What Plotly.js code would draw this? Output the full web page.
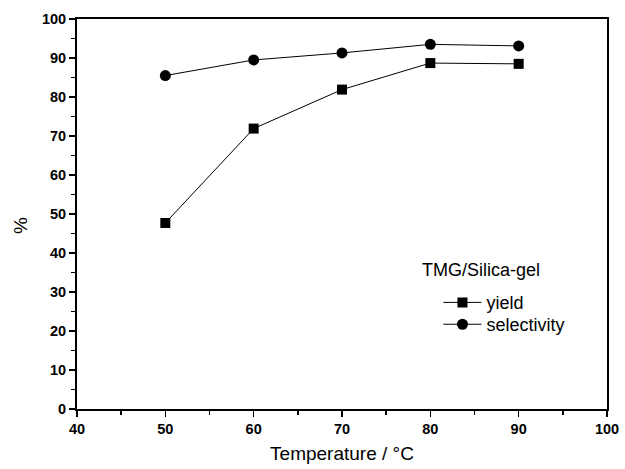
<!DOCTYPE html>
<html>
<head>
<meta charset="utf-8">
<script src="https://cdn.plot.ly/plotly-3.0.1.min.js"></script>
<style>html,body{margin:0;padding:0;background:#fff;}#chart{width:625px;height:469px;}</style>
</head>
<body>
<div id="chart"></div>
<script>
var temperature = [50, 60, 70, 80, 90];
var yieldValues = [47.7, 71.9, 81.9, 88.7, 88.5];
var selectivityValues = [85.5, 89.5, 91.3, 93.5, 93.1];
var seriesNames = ['yield', 'selectivity'];
var legendTitle = 'TMG/Silica-gel';
var xTitle = 'Temperature / \u00B0C';
var yTitle = '%';
var xTickVals = [40, 50, 60, 70, 80, 90, 100];
var yTickVals = [0, 10, 20, 30, 40, 50, 60, 70, 80, 90, 100];

var traces = [
  {x: temperature, y: yieldValues, name: seriesNames[0], type: 'scatter', mode: 'lines+markers', legend: 'legend',
   line: {color: '#000', width: 1}, marker: {symbol: 'square', size: 10, color: '#000'}},
  {x: temperature, y: selectivityValues, name: seriesNames[1], type: 'scatter', mode: 'lines+markers', legend: 'legend2',
   line: {color: '#000', width: 1}, marker: {symbol: 'circle', size: 11, color: '#000'}}
];
var fam = 'Liberation Sans';
var axisFont = {family: fam, size: 14.5, color: '#000', weight: 'bold'};
function boldLabels(v) { return v.map(function (t) { return '<b>' + t + '</b>'; }); }
function legendBox(yPos) {
  return {x: 0.682, y: yPos, xanchor: 'left', yanchor: 'top', bgcolor: 'rgba(0,0,0,0)',
    itemwidth: 38, font: {family: fam, size: 18, color: '#000'}};
}
var layout = {
  width: 625, height: 469,
  margin: {l: 77, r: 18, t: 19, b: 60},
  paper_bgcolor: '#fff', plot_bgcolor: '#fff',
  showlegend: true,
  legend: legendBox(0.32),
  legend2: legendBox(0.264),
  annotations: [
    {text: legendTitle, xref: 'paper', yref: 'paper', x: 0.647, y: 0.356,
     xanchor: 'left', yanchor: 'middle', showarrow: false, font: {family: fam, size: 18, color: '#000'}},
    {text: yTitle, xref: 'paper', yref: 'paper', x: -0.1075, y: 0.469, textangle: -90,
     xanchor: 'center', yanchor: 'middle', showarrow: false, font: {family: fam, size: 19, color: '#000'}}
  ],
  xaxis: {range: [40, 100], tickmode: 'array', tickvals: xTickVals, ticktext: boldLabels(xTickVals),
    showgrid: false, zeroline: false,
    showline: true, linecolor: '#000', linewidth: 2, mirror: true,
    ticks: 'outside', ticklen: 6, tickwidth: 1.5, tickcolor: '#000',
    minor: {dtick: 5, ticks: 'outside', ticklen: 4, tickwidth: 1.5, tickcolor: '#000'},
    tickfont: axisFont,
    title: {text: xTitle, font: {family: fam, size: 19, color: '#000'}, standoff: 10}},
  yaxis: {range: [0, 100], tickmode: 'array', tickvals: yTickVals, ticktext: boldLabels(yTickVals),
    showgrid: false, zeroline: false,
    showline: true, linecolor: '#000', linewidth: 2, mirror: true,
    ticks: 'outside', ticklen: 6, tickwidth: 1.5, tickcolor: '#000',
    minor: {dtick: 5, ticks: 'outside', ticklen: 4, tickwidth: 1.5, tickcolor: '#000'},
    tickfont: axisFont}
};
Plotly.newPlot('chart', traces, layout, {displayModeBar: false, staticPlot: true});
</script>
</body>
</html>
